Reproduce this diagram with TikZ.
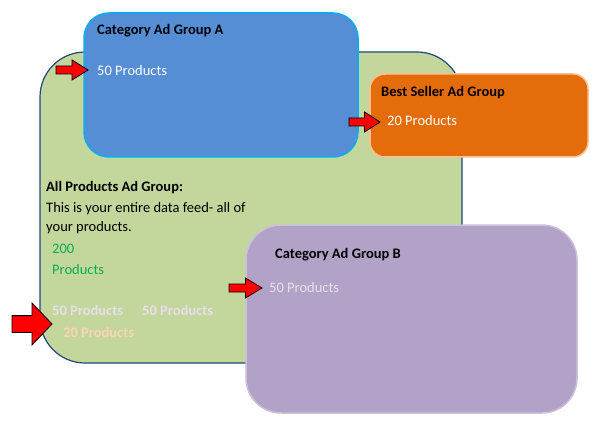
\documentclass[tikz,border=0pt]{standalone}
\usepackage{fontspec}
\setmainfont{Carlito}
\definecolor{gfill}{HTML}{C3D69B}
\definecolor{gline}{HTML}{1F497D}
\definecolor{bfill}{HTML}{558ED5}
\definecolor{bline}{HTML}{00B0F0}
\definecolor{ofill}{HTML}{E46C0A}
\definecolor{oline}{HTML}{FAC090}
\definecolor{pfill}{HTML}{B3A2C7}
\definecolor{pline}{HTML}{CCC1DA}
\definecolor{gtext}{HTML}{00B050}
\definecolor{ltext}{HTML}{E6E0EC}
\definecolor{ptext}{HTML}{FCD5B5}
\newcommand\redarrow[4]{% x y w h (top-left, px)
  \fill[red,draw=black,line width=0.8pt]
   (#1,-#2-0.3*#4) -- (#1+0.5*#3,-#2-0.3*#4) -- (#1+0.5*#3,-#2) -- (#1+#3,-#2-0.5*#4)
   -- (#1+0.5*#3,-#2-#4) -- (#1+0.5*#3,-#2-0.7*#4) -- (#1,-#2-0.7*#4) -- cycle;}
\tikzset{lbl/.style={anchor=west,inner sep=0pt,font=\fontsize{14.5}{16}\selectfont},
  bl/.style={lbl,font=\fontsize{14.5}{16}\selectfont\bfseries}}
\begin{document}
\begin{tikzpicture}[x=1pt,y=1pt]
\useasboundingbox (0,0) rectangle (600,-425);
\fill[white] (0,0) rectangle (600,-425);
\draw[fill=gfill,draw=gline,line width=1.2pt,rounded corners=45] (40,-52) rectangle (462,-363);
\draw[fill=bfill,draw=bline,line width=1.5pt,rounded corners=25] (84,-13) rectangle (358,-157);
\draw[fill=ofill,draw=oline,line width=1.5pt,rounded corners=15] (370,-74) rectangle (588,-157);
\draw[fill=pfill,draw=pline,line width=1.5pt,rounded corners=35] (246,-225) rectangle (577,-413);
\node[bl] (ta) at (97,-31) {Category Ad Group A};
\node[lbl,white] (na) at (97,-71) {50 Products};
\node[bl] (tb) at (381,-93) {Best Seller Ad Group};
\node[lbl,white] (nb) at (387,-121) {20 Products};
\node[bl] (tg) at (46,-188) {All Products Ad Group:};
\node[lbl] (g1) at (46,-209) {This is your entire data feed- all of};
\node[lbl] (g2) at (46,-228) {your products.};
\node[lbl,gtext] (g3) at (52,-249) {200};
\node[lbl,gtext] (g4) at (52,-270) {Products};
\node[bl,ltext] (g5) at (52,-310) {50 Products};
\node[bl,ltext] (g6) at (142,-310) {50 Products};
\node[bl,ptext] (g7) at (63,-332) {20 Products};
\node[bl] (tp) at (275,-255) {Category Ad Group B};
\node[lbl,ltext] (np) at (269,-288) {50 Products};
\redarrow{56}{60}{32}{20}
\redarrow{349}{112}{31}{20}
\redarrow{229}{278}{33}{20}
\redarrow{12}{303}{40}{42}
\end{tikzpicture}
\end{document}
